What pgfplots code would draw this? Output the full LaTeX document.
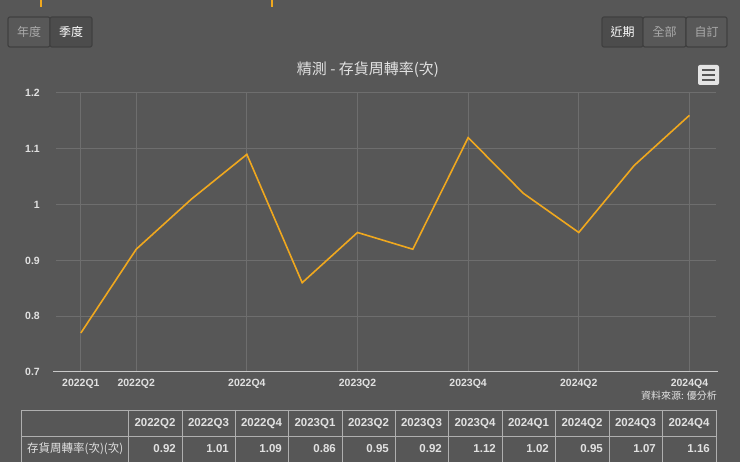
\documentclass[border=0pt]{standalone}
\usepackage{pgfplots}
\pgfplotsset{compat=1.18}
\usepackage{fontspec}
\setmainfont{Liberation Sans}
\newfontfamily\cjk{Noto Sans CJK TC}

\definecolor{bg}{RGB}{87,87,87}
\definecolor{gridc}{RGB}{110,110,110}
\definecolor{axisc}{RGB}{200,200,200}
\definecolor{labelc}{RGB}{225,225,225}
\definecolor{dimc}{RGB}{170,170,170}
\definecolor{iconc}{RGB}{228,228,228}
\definecolor{linec}{RGB}{240,168,30}
\definecolor{btnb}{RGB}{64,64,64}
\definecolor{btnf}{RGB}{88,88,88}
\definecolor{btna}{RGB}{76,76,76}
\definecolor{tabc}{RGB}{175,175,175}

\begin{document}
\begin{tikzpicture}[x=1pt,y=1pt]
\useasboundingbox (0,0) rectangle (740,462);
\fill[bg] (0,0) rectangle (740,462);

\begin{axis}[
  at={(56pt,90pt)}, anchor=south west,
  width=660pt, height=279pt, scale only axis,
  xmin=-0.45, xmax=11.48, ymin=0.7, ymax=1.2,
  axis line style={draw=none},
  major tick length=0pt,
  xtick={0,1,3,5,7,9,11},
  xticklabels={2022Q1,2022Q2,2022Q4,2023Q2,2023Q4,2024Q2,2024Q4},
  ytick={0.7,0.8,0.9,1,1.1,1.2},
  yticklabels={0.7,0.8,0.9,1,1.1,1.2},
  xmajorgrids, ymajorgrids,
  major grid style={gridc, line width=1pt},
  /pgf/number format/assume math mode=true,
  tick label style={font=\fontsize{10.5}{12}\selectfont\bfseries, text=labelc},
  yticklabel style={anchor=east, inner sep=0pt, xshift=-16pt},
  xticklabel style={anchor=north, inner sep=0pt, yshift=-7pt},
]
\addplot[linec, line width=1.6pt] coordinates {
  (0,0.77) (1,0.92) (2,1.01) (3,1.09) (4,0.86) (5,0.95)
  (6,0.92) (7,1.12) (8,1.02) (9,0.95) (10,1.07) (11,1.16)
};
\end{axis}

\begin{scope}[yshift=462pt, y=-1pt]
  % baseline
  \draw[axisc, line width=1pt] (53,372) -- (718,372);
  % orange marks at top
  \draw[linec, line width=2pt] (40.7,0) -- (40.7,7);
  \draw[linec, line width=2pt] (271.7,0) -- (271.7,7);
  % buttons
  \draw[btnb, line width=1.2pt, fill=btnf, rounded corners=2pt] (8,17) rectangle (50,47);
  \draw[btnb, line width=1.2pt, fill=btna, rounded corners=2pt] (50,17) rectangle (92,47);
  \node[text=dimc, font=\cjk\fontsize{12}{14}\selectfont] at (29,32) {年度};
  \node[text=white, font=\cjk\fontsize{12}{14}\selectfont] at (71,32) {季度};
  \draw[btnb, line width=1.2pt, fill=btna, rounded corners=2pt] (602,17) rectangle (643,47);
  \draw[btnb, line width=1.2pt, fill=btnf, rounded corners=2pt] (643,17) rectangle (686,47);
  \draw[btnb, line width=1.2pt, fill=btnf, rounded corners=2pt] (686,17) rectangle (727,47);
  \node[text=white, font=\cjk\fontsize{12}{14}\selectfont] at (622.5,32) {近期};
  \node[text=dimc, font=\cjk\fontsize{12}{14}\selectfont] at (664.5,32) {全部};
  \node[text=dimc, font=\cjk\fontsize{12}{14}\selectfont] at (706.5,32) {自訂};
  % menu icon
  \fill[iconc, rounded corners=2pt] (698,65) rectangle (719,85);
  \foreach \yy in {70,75,80}
    \draw[bg, line width=2.2pt] (702,\yy) -- (715,\yy);
  % title
  \node[text=labelc, font=\cjk\fontsize{15}{17}\selectfont] at (368,70) {精測 - 存貨周轉率(次)};
  % source
  \node[text=labelc, anchor=east, inner sep=0pt, font=\cjk\fontsize{10}{12}\selectfont] at (717,396) {資料來源: 優分析};
  % table
  \draw[tabc, line width=0.9pt] (21,462) -- (21,410) -- (716,410) -- (716,462);
  \draw[tabc, line width=0.9pt] (21,436) -- (716,436);
  \foreach \cx in {128,182,235,288,342,395,448,502,555,609,662}
    \draw[tabc, line width=0.9pt] (\cx,410) -- (\cx,462);
  \foreach \cx/\lab in {155/2022Q2,208.5/2022Q3,261.5/2022Q4,315/2023Q1,368.5/2023Q2,421.5/2023Q3,475/2023Q4,528.5/2024Q1,582/2024Q2,635.5/2024Q3,689/2024Q4}
    \node[text=labelc, anchor=base, inner sep=0pt, font=\fontsize{11.5}{13}\selectfont\bfseries] at (\cx,427) {\lab};
  \foreach \rx/\val in {176/0.92,229/1.01,282/1.09,336/0.86,389/0.95,442/0.92,496/1.12,549/1.02,603/0.95,656/1.07,710/1.16}
    \node[text=labelc, anchor=base east, inner sep=0pt, font=\fontsize{11.5}{13}\selectfont\bfseries] at (\rx,453) {\val};
  \node[text=labelc, anchor=base west, inner sep=0pt, font=\cjk\fontsize{11.5}{13}\selectfont] at (27,453) {存貨周轉率(次)(次)};
\end{scope}
\end{tikzpicture}
\end{document}
